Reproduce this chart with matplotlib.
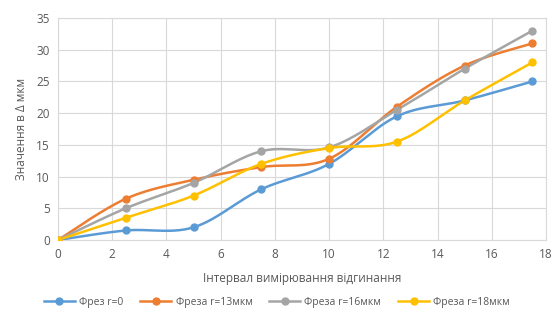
import numpy as np
import matplotlib
matplotlib.use("Agg")
import matplotlib.pyplot as plt

# interval points and measured values per cutter
x = [0, 2.5, 5, 7.5, 10, 12.5, 15, 17.5]
r0 = [0, 1.5, 2, 8, 12, 19.5, 22, 25]
r13 = [0, 6.5, 9.5, 11.5, 12.8, 21, 27.5, 31]
r16 = [0, 5, 9, 14, 14.6, 20.5, 27, 33]
r18 = [0, 3.5, 7, 12, 14.5, 15.5, 22, 28]
labels = ["Фрез r=0", "Фреза r=13мкм", "Фреза r=16мкм", "Фреза r=18мкм"]
colors = ["#5B9BD5", "#ED7D31", "#A5A5A5", "#FFC000"]


def smooth(xs, ys, n=30):
    # Catmull-Rom style bezier segments, like spreadsheet "smoothed line"
    p = np.column_stack([xs, ys]).astype(float)
    pts = []
    for i in range(len(p) - 1):
        p0 = p[i - 1] if i > 0 else p[i]
        p3 = p[i + 2] if i + 2 < len(p) else p[i + 1]
        c1 = p[i] + (p[i + 1] - p0) / 6
        c2 = p[i + 1] - (p3 - p[i]) / 6
        t = np.linspace(0, 1, n)[:, None]
        seg = ((1 - t) ** 3 * p[i] + 3 * (1 - t) ** 2 * t * c1
               + 3 * (1 - t) * t ** 2 * c2 + t ** 3 * p[i + 1])
        pts.append(seg if i == 0 else seg[1:])
    pts = np.vstack(pts)
    return pts[:, 0], pts[:, 1]


plt.rcParams['font.family'] = ['Open Sans', 'DejaVu Sans']
fig = plt.figure(figsize=(5.54, 3.25), dpi=100)
ax = fig.add_axes([58 / 554, 1 - 240 / 325, 488 / 554, 222 / 325])

for ys, lab, c in zip([r0, r13, r16, r18], labels, colors):
    sx, sy = smooth(x, ys)
    ax.plot(sx, sy, color=c, linewidth=1.8, zorder=3)
    ax.plot(x, ys, 'o', color=c, markersize=5, zorder=4)
    ax.plot([], [], '-o', color=c, linewidth=1.8, markersize=5, label=lab)

ax.set_xlim(0, 18)
ax.set_ylim(0, 35)
ax.set_xticks(range(0, 19, 2))
ax.set_yticks(range(0, 36, 5))
ax.grid(True, color="#D9D9D9", linewidth=0.8)
ax.set_axisbelow(True)
for s in ax.spines.values():
    s.set_color("#D9D9D9")
ax.tick_params(length=0, labelsize=8.5, colors="#595959", pad=6)
ax.set_xlabel("Інтервал вимірювання відгинання", fontsize=8.5, color="#595959", labelpad=8)
ax.set_ylabel("Значення в Δ мкм", fontsize=8.5, color="#595959", labelpad=6)

fig.legend(loc="center", bbox_to_anchor=(0.5, 1 - 302 / 325), ncol=4, frameon=False,
           fontsize=7.5, labelcolor="#595959", handlelength=3, columnspacing=1.6,
           handletextpad=0.4)

fig.savefig("out.png", dpi=100)
